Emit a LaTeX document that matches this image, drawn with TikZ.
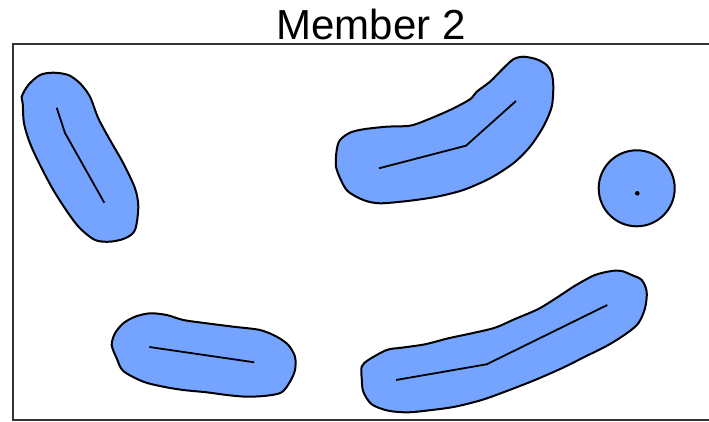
\documentclass[tikz,border=0pt]{standalone}
\usepackage{fontspec}
\setmainfont{Liberation Sans}
\definecolor{blobblue}{RGB}{116,164,255}
\tikzset{
  blob/.style={draw=black, fill=blobblue, line width=2pt, line join=round},
  spine/.style={draw=black, line width=1.8pt},
  frameline/.style={draw=black!80, line width=1.8pt},
}
\begin{document}
\begin{tikzpicture}[x=1pt,y=-1pt]
\useasboundingbox (0,0) rectangle (709,422);
\begin{scope}
  \clip (0,0) rectangle (709,422);
  \draw[frameline] (13,44) rectangle (730,420.3);
\end{scope}
\node[anchor=base, inner sep=0pt, font=\fontsize{42}{50}\selectfont] (title) at (371,39.3) {Member 2};

% shape 1 (left)
\draw[blob] plot[smooth cycle, tension=0.5] coordinates {
 (21.7,96.7) (28.3,85) (40,75) (53.3,72.7) (68.3,75) (80,83.3) (90,96.7)
 (98.3,118.3) (110,140) (123.3,163.3) (135,188.3) (138.3,206.7) (135,230)
 (125,238.3) (110,241.7) (95,240) (80,228.3) (68.3,213.3) (53.3,190)
 (40,165) (30,143.3) (24,123.3) (22.7,103.3)};
\draw[spine] (56.7,107.7) -- (65,133) -- (104.3,202.7);

% shape 2 (top middle)
\draw[blob] plot[smooth cycle, tension=0.5] coordinates {
 (336.7,150) (340,140) (350,132.7) (363.3,129.3) (386.7,126.7) (410,125.7)
 (426.7,120) (450,110) (470,99.3) (476.7,91.7) (490,81.7) (503.3,68.3)
 (513.3,59.3) (523.3,56.7) (536.7,59.3) (546.7,65) (551.7,73.3) (553.3,86.7)
 (551.7,106.7) (543.3,126.7) (530,146.7) (513.3,163.3) (490,178.3)
 (463.3,190) (436.7,196.7) (410,200.7) (380,203.3) (363.3,200) (348.3,191.7)
 (341.7,181.7) (336,166.7)};
\draw[spine] (379,168.3) -- (466,145.7) -- (516,101);

% shape 3 (bottom left)
\draw[blob] plot[smooth cycle, tension=0.5] coordinates {
 (111.7,345) (115,333.3) (123.3,323.3) (135,316.7) (150,313.3) (166.7,315)
 (183.3,320) (206.7,323.3) (233.3,326.7) (260,330) (276.7,336.7) (288.3,345)
 (295,356.7) (295,370) (290,381.7) (281.7,392.3) (266.7,395.7) (246.7,396.7)
 (226.7,395) (206.7,392.3) (183.3,390) (163.3,386.7) (143.3,381.7)
 (123.3,371) (116.7,358.3)};
\draw[spine] (149.3,347) -- (254.3,362.3);

% shape 4 (bottom right)
\draw[blob] plot[smooth cycle, tension=0.5] coordinates {
 (361.7,366.7) (368.3,360) (386.7,350) (401.7,347.7) (425,344.3) (448.3,338.3)
 (471.7,333.3) (495,327.7) (515,319) (538.3,309) (558.3,296.7) (575,285.7)
 (595,275) (611.7,271) (621.7,271) (631.7,275) (641.7,280) (646.7,291.7)
 (645,308.3) (638.3,323.3) (626.7,333.3) (608.3,345) (585,356.7)
 (561.7,368.3) (535,380) (505,391.7) (481.7,400) (455,406.7) (431.7,410)
 (408.3,412.3) (388.3,410.7) (371.7,404.3) (363.3,391.7) (361.7,378.3)};
\draw[spine] (396,380) -- (486.7,364.3) -- (607.3,305);

% circle
\draw[blob] (636.7,188.3) circle[radius=38];
\fill[black] (637.3,193.3) circle[radius=2.3];
\end{tikzpicture}
\end{document}
